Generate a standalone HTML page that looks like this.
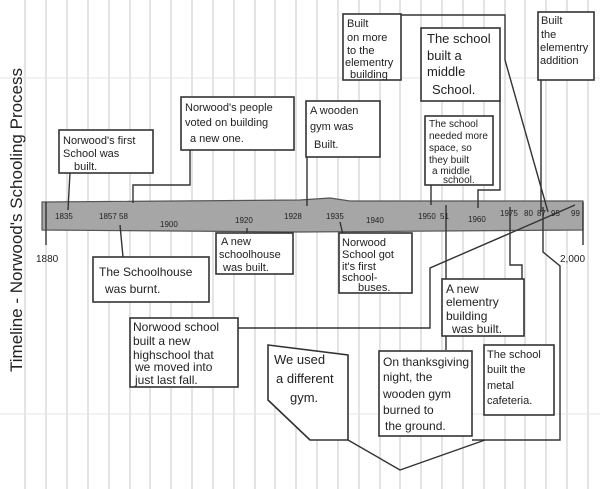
<!DOCTYPE html>
<html><head><meta charset="utf-8"><style>
html,body{margin:0;padding:0;background:#fff}
svg{display:block}
text{font-family:"Liberation Sans",sans-serif;fill:#222}
.b{fill:#fff;stroke:#333;stroke-width:1.6}
.l{fill:none;stroke:#333;stroke-width:1.4}
.t{font-size:11px}
.y{font-size:8px}
</style></head><body>
<svg width="600" height="489" viewBox="0 0 600 489" xmlns="http://www.w3.org/2000/svg">
<g stroke="#c8c8c8" stroke-width="1">
<line x1="25" y1="0" x2="25" y2="489"/><line x1="46" y1="0" x2="46" y2="489"/><line x1="67" y1="0" x2="67" y2="489"/><line x1="88" y1="0" x2="88" y2="489"/><line x1="109" y1="0" x2="109" y2="489"/><line x1="130" y1="0" x2="130" y2="489"/><line x1="150" y1="0" x2="150" y2="489"/><line x1="171" y1="0" x2="171" y2="489"/><line x1="192" y1="0" x2="192" y2="489"/><line x1="213" y1="0" x2="213" y2="489"/><line x1="234" y1="0" x2="234" y2="489"/><line x1="255" y1="0" x2="255" y2="489"/><line x1="275" y1="0" x2="275" y2="489"/><line x1="296" y1="0" x2="296" y2="489"/><line x1="317" y1="0" x2="317" y2="489"/><line x1="338" y1="0" x2="338" y2="489"/><line x1="359" y1="0" x2="359" y2="489"/><line x1="380" y1="0" x2="380" y2="489"/><line x1="400" y1="0" x2="400" y2="489"/><line x1="421" y1="0" x2="421" y2="489"/><line x1="442" y1="0" x2="442" y2="489"/><line x1="463" y1="0" x2="463" y2="489"/><line x1="484" y1="0" x2="484" y2="489"/><line x1="505" y1="0" x2="505" y2="489"/><line x1="525" y1="0" x2="525" y2="489"/><line x1="546" y1="0" x2="546" y2="489"/><line x1="567" y1="0" x2="567" y2="489"/><line x1="588" y1="0" x2="588" y2="489"/>
</g>
<line x1="0" y1="78" x2="600" y2="78" stroke="#e4e4e4"/>
<line x1="0" y1="414" x2="600" y2="414" stroke="#e4e4e4"/>
<path d="M42 202 L300 200 L330 198 L350 201 L583 201 L583 230 L300 232 L42 230 Z" fill="#a6a6a6" stroke="#555" stroke-width="1.2"/>
<path class="l" d="M46 202 V245"/>
<path class="l" d="M583 202 V245"/>
<path class="l" d="M68 210 L70 172"/>
<path class="l" d="M133 203 V185 H190 V150"/>
<path class="l" d="M307 206 V157"/>
<path class="l" d="M120 225 L123 257"/>
<path class="l" d="M247 235 V228"/>
<path class="l" d="M340 222 L343 235"/>
<path class="l" d="M431 205 V185"/>
<path class="l" d="M446 205 V350"/>
<path class="l" d="M478 208 V190 H500 V101"/>
<path class="l" d="M400 15 H505 V60 L548 212"/>
<path class="l" d="M541 80 V212"/>
<path class="l" d="M510 207 V265 H522 V279"/>
<path class="l" d="M543 207 V252 L560 266 V440 H472"/>
<path class="l" d="M575 205 L430 268 V328 H238"/>
<path class="l" d="M348 440 L400 470 L485 440"/>
<path class="l" d="M268 400 L310 440"/>
<rect class="b" x="59" y="130" width="94" height="43"/>
<rect class="b" x="181" y="97" width="113" height="53"/>
<rect class="b" x="306" y="101" width="74" height="56"/>
<rect class="b" x="343" y="14" width="58" height="66"/>
<rect class="b" x="421" y="28" width="79" height="73"/>
<rect class="b" x="425" y="116" width="68" height="69"/>
<rect class="b" x="538" y="12" width="56" height="68"/>
<rect class="b" x="216" y="233" width="77" height="41"/>
<rect class="b" x="93" y="257" width="116" height="45"/>
<rect class="b" x="339" y="233" width="73" height="60"/>
<rect class="b" x="442" y="279" width="82" height="57"/>
<rect class="b" x="130" y="318" width="108" height="69"/>
<path class="b" d="M268 345 L348 355 L348 440 L310 440 L268 400 Z"/>
<rect class="b" x="379" y="351" width="93" height="85"/>
<rect class="b" x="484" y="345" width="70" height="70"/>
<text class="t"><tspan x="63" y="144">Norwood's first</tspan><tspan x="63" y="157">School was</tspan><tspan x="74" y="170">built.</tspan></text>
<text class="t"><tspan x="185" y="111">Norwood's people</tspan><tspan x="185" y="126">voted on building</tspan><tspan x="190" y="142">a new one.</tspan></text>
<text class="t"><tspan x="310" y="114">A wooden</tspan><tspan x="310" y="130">gym was</tspan><tspan x="314" y="148">Built.</tspan></text>
<text class="t"><tspan x="347" y="27">Built</tspan><tspan x="347" y="41">on more</tspan><tspan x="347" y="54">to the</tspan><tspan x="345" y="66">elementry</tspan><tspan x="350" y="78">building</tspan></text>
<text class="t" style="font-size:13px"><tspan x="427" y="43">The school</tspan><tspan x="427" y="60">built a</tspan><tspan x="427" y="76">middle</tspan><tspan x="432" y="94">School.</tspan></text>
<text class="t" style="font-size:10px"><tspan x="429" y="127">The school</tspan><tspan x="429" y="139">needed more</tspan><tspan x="429" y="151">space, so</tspan><tspan x="429" y="163">they built</tspan><tspan x="432" y="174">a middle</tspan><tspan x="443" y="183">school.</tspan></text>
<text class="t"><tspan x="541" y="24">Built</tspan><tspan x="541" y="38">the</tspan><tspan x="540" y="51">elementry</tspan><tspan x="540" y="64">addition</tspan></text>
<text class="t"><tspan x="221" y="245">A new</tspan><tspan x="219" y="258">schoolhouse</tspan><tspan x="223" y="271">was built.</tspan></text>
<text class="t" style="font-size:12px"><tspan x="99" y="276">The Schoolhouse</tspan><tspan x="105" y="293">was burnt.</tspan></text>
<text class="t"><tspan x="342" y="246">Norwood</tspan><tspan x="342" y="258">School got</tspan><tspan x="342" y="270">it's first</tspan><tspan x="342" y="281">school-</tspan><tspan x="358" y="291">buses.</tspan></text>
<text class="t" style="font-size:12px"><tspan x="446" y="293">A new</tspan><tspan x="446" y="306">elementry</tspan><tspan x="446" y="320">building</tspan><tspan x="452" y="333">was built.</tspan></text>
<text class="t" style="font-size:12px"><tspan x="133" y="331">Norwood school</tspan><tspan x="133" y="345">built a new</tspan><tspan x="133" y="359">highschool that</tspan><tspan x="135" y="371">we moved into</tspan><tspan x="135" y="384">just last fall.</tspan></text>
<text class="t" style="font-size:13px"><tspan x="274" y="364">We used</tspan><tspan x="276" y="383">a different</tspan><tspan x="290" y="402">gym.</tspan></text>
<text class="t" style="font-size:12px"><tspan x="383" y="366">On thanksgiving</tspan><tspan x="383" y="381">night, the</tspan><tspan x="383" y="398">wooden gym</tspan><tspan x="383" y="414">burned to</tspan><tspan x="385" y="430">the ground.</tspan></text>
<text class="t" style="font-size:11px"><tspan x="487" y="358">The school</tspan><tspan x="487" y="373">built the</tspan><tspan x="487" y="389">metal</tspan><tspan x="487" y="404">cafeteria.</tspan></text>
<g class="y">
<text x="55" y="219">1835</text><text x="99" y="219">1857</text><text x="119" y="219">58</text>
<text x="160" y="227">1900</text><text x="235" y="223">1920</text><text x="284" y="219">1928</text>
<text x="326" y="219">1935</text><text x="366" y="223">1940</text><text x="418" y="219">1950</text>
<text x="440" y="219">51</text><text x="468" y="222">1960</text><text x="500" y="216">1975</text>
<text x="524" y="216">80</text><text x="537" y="216">87</text><text x="551" y="216">95</text><text x="571" y="216">99</text>
</g>
<text x="36" y="262" style="font-size:10px">1880</text>
<text x="560" y="262" style="font-size:10px">2,000</text>
<text transform="translate(22,372) rotate(-90)" style="font-size:17px">Timeline - Norwood's Schooling Process</text>
</svg>
</body></html>
